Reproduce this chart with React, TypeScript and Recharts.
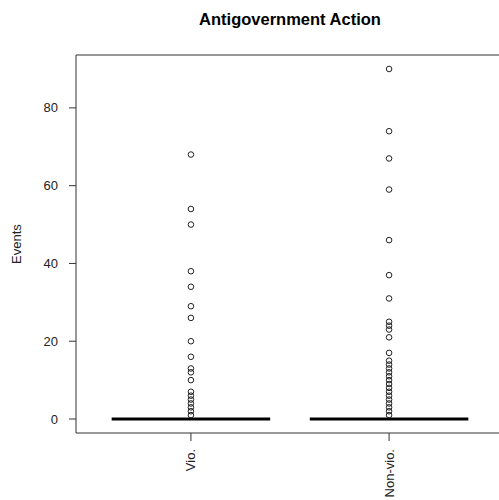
import React from "react";
import {
  ComposedChart,
  Scatter,
  XAxis,
  YAxis,
  ReferenceLine,
  ReferenceArea,
} from "recharts";

const categories = ["Vio.", "Non-vio."];
const categoryPositions = [1, 2];
const medians = [0, 0];
const vioOutliers = [68, 54, 50, 38, 34, 29, 26, 20, 16, 13, 12, 10, 7, 6, 5, 4, 3, 2, 1];
const nonVioOutliers = [90, 74, 67, 59, 46, 37, 31, 25, 24, 23, 21, 17, 15, 14, 13, 12, 11, 10, 9, 8, 7, 6, 5, 4, 3, 2, 1];
const yTicks = [0, 20, 40, 60, 80];
const yDomain = [-3.6, 93.6];
const xDomain = [0.42, 2.58];
const boxHalfWidth = 0.4;

const vioData = vioOutliers.map((v) => ({ x: categoryPositions[0], y: v }));
const nonVioData = nonVioOutliers.map((v) => ({ x: categoryPositions[1], y: v }));

const FONT = "Liberation Sans, Arial, sans-serif";

const HollowDot = (props: any) => {
  const { cx, cy } = props;
  if (cx == null || cy == null) return null;
  return <circle cx={cx} cy={cy} r={2.8} fill="none" stroke="#222" strokeWidth={1} />;
};

const XTick = (props: any) => {
  const { x, y, payload } = props;
  const idx = categoryPositions.indexOf(payload.value);
  const label = idx >= 0 ? categories[idx] : "";
  return (
    <g transform={`translate(${x},${y})`}>
      <text
        transform="rotate(-90)"
        x={-6}
        y={0}
        textAnchor="end"
        dominantBaseline="central"
        fontSize={13}
        fontFamily={FONT}
        fill="#222"
      >
        {label}
      </text>
    </g>
  );
};

const YTick = (props: any) => {
  const { y, payload } = props;
  return (
    <text x={58} y={y} textAnchor="end" dominantBaseline="central" fontSize={13} fontFamily={FONT} fill="#222">
      {payload.value}
    </text>
  );
};

export default function App() {
  return (
    <div style={{ position: "fixed", left: 0, top: 0, width: 499, height: 500, overflow: "hidden", background: "#fff" }}>
      <div
        style={{
          position: "absolute",
          left: 76,
          width: 428,
          top: 10,
          textAlign: "center",
          fontFamily: FONT,
          fontWeight: "bold",
          fontSize: 16.5,
          color: "#000",
        }}
      >
        Antigovernment Action
      </div>
      <ComposedChart
        width={510}
        height={500}
        margin={{ top: 55, right: 6, bottom: 0, left: 0 }}
        style={{ position: "absolute", left: 0, top: 0 }}
      >
        <XAxis
          dataKey="x"
          type="number"
          domain={xDomain}
          ticks={categoryPositions}
          allowDataOverflow
          height={67}
          axisLine={false}
          tickLine={{ stroke: "#333" }}
          tickSize={8}
          tick={<XTick />}
        />
        <YAxis
          dataKey="y"
          type="number"
          domain={yDomain}
          ticks={yTicks}
          allowDataOverflow
          width={76}
          axisLine={false}
          tickLine={{ stroke: "#333" }}
          tickSize={7}
          tick={<YTick />}
          label={{
            value: "Events",
            angle: -90,
            position: "insideLeft",
            offset: 16,
            fontSize: 13,
            fill: "#222",
            fontFamily: FONT,
            style: { textAnchor: "middle" },
          }}
        />
        <ReferenceArea
          x1={xDomain[0]}
          x2={xDomain[1]}
          y1={yDomain[0]}
          y2={yDomain[1]}
          fill="none"
          fillOpacity={0}
          stroke="#333"
          strokeWidth={1}
          ifOverflow="visible"
        />
        {categoryPositions.map((pos, i) => (
          <ReferenceLine
            key={categories[i]}
            segment={[
              { x: pos - boxHalfWidth, y: medians[i] },
              { x: pos + boxHalfWidth, y: medians[i] },
            ]}
            stroke="#000"
            strokeWidth={3}
          />
        ))}
        <Scatter data={vioData} shape={<HollowDot />} isAnimationActive={false} />
        <Scatter data={nonVioData} shape={<HollowDot />} isAnimationActive={false} />
      </ComposedChart>
    </div>
  );
}
